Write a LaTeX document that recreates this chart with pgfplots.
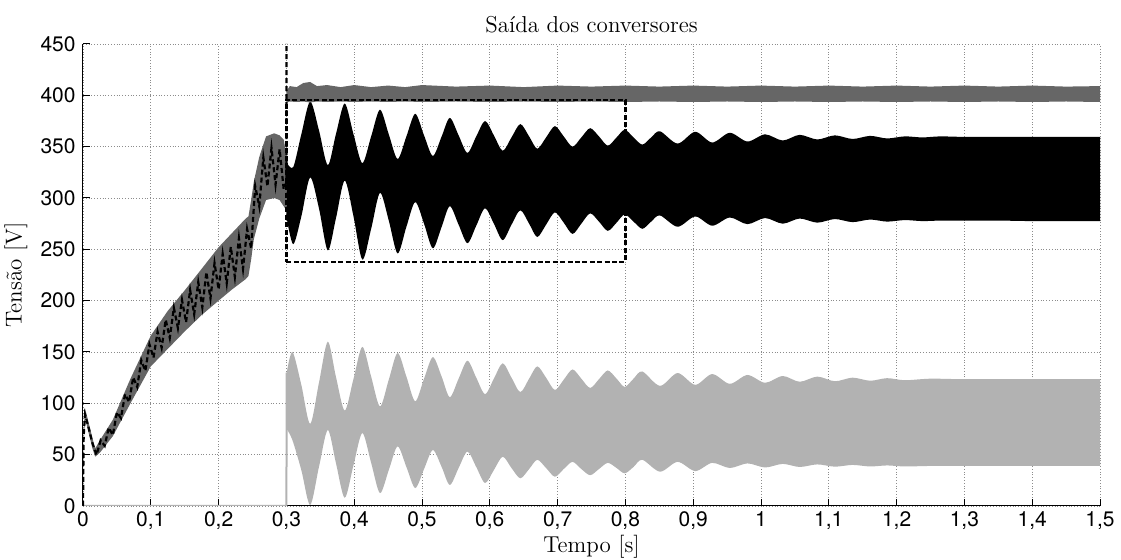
\documentclass[border=0pt]{standalone}
\usepackage{fontspec}
\newfontfamily\heros{TeX Gyre Heros}
\usepackage{pgfplots}
\usepackage{pgfplotstable}
\pgfplotsset{compat=1.18}
\usepgfplotslibrary{fillbetween}

\definecolor{cdark}{gray}{0.40}
\definecolor{clight}{gray}{0.70}
\definecolor{cgrid}{gray}{0.55}

% ramp of both converters before 0.3 s (band limits)
\pgfplotstableread{
t lo hi
0.000 0 0
0.001 60 75
0.003 86 95
0.008 72 82
0.014 56 66
0.018 48 56
0.025 52 64
0.044 68 84
0.070 100 124
0.100 136 166
0.125 153 190
0.150 170 210
0.175 186 231
0.200 200 252
0.220 211 266
0.240 221 280
0.244 224 282
0.248 240 298
0.252 260 316
0.260 280 340
0.270 298 360
0.282 300 363
0.290 298 361
0.296 292 357
0.300 288 342
}\ramp

% second converter (dashed) during the ramp
\pgfplotstableread{
t v
0.000 0
0.001 68
0.003 89
0.008 77
0.014 61
0.020 49.7
0.026 63.9
0.032 58.6
0.038 76.3
0.044 69
0.050 91.3
0.056 85.6
0.062 108.9
0.068 101.2
0.074 125.2
0.080 116
0.086 141.8
0.092 131.6
0.098 157.4
0.104 144.5
0.110 169.8
0.116 154.1
0.122 181.4
0.128 163.7
0.134 193
0.140 173.3
0.146 200.7
0.152 179
0.158 210.3
0.164 186.7
0.170 218
0.176 193.4
0.182 227.8
0.188 202.2
0.194 236.6
0.200 211
0.206 245.5
0.212 216.9
0.218 252.4
0.224 223.1
0.230 261
0.236 230.9
0.242 269.8
0.248 251
0.254 311.5
0.260 292
0.266 339.4
0.272 311.4
0.278 348.7
0.284 313
0.290 347.5
0.296 308.5
0.300 315
0.300 480
}\rampdash

% black converter output after 0.3 s (band limits)
\pgfplotstableread{
t lo hi
0.300 282 335
0.310 255 330
0.322 282 362
0.335 320 394
0.348 290 366
0.361 249 332
0.373 280 362
0.386 317 392
0.399 282 362
0.412 240 334
0.425 270 360
0.438 305 386
0.451 278 362
0.464 246 338
0.477 272 360
0.490 296 382
0.503 275 361
0.516 251 341
0.529 272 360
0.541 292 378
0.554 274 361
0.567 256 344
0.580 273 360
0.593 290 375
0.606 275 361
0.619 259 346
0.632 274 359
0.645 288 372
0.658 275 360
0.670 262 348
0.683 274 359
0.696 286 370
0.709 276 360
0.722 265 350
0.735 275 359
0.748 285 368
0.761 277 360
0.774 268 351
0.787 276 359
0.799 284 366.5
0.812 277 359
0.825 270 352
0.838 277 359
0.851 283 365
0.877 272 353
0.903 282 364.5
0.928 273 354
0.954 281 363.5
0.980 274.5 355
1.006 280.5 362
1.032 275 356
1.057 280 361.5
1.083 276 357
1.109 279.5 361
1.135 276.5 357.5
1.161 279 360.5
1.186 277 358
1.212 278.5 360
1.238 277.5 359
1.264 278 360
1.300 278 359.5
1.350 278 359.5
1.400 277.5 359.5
1.450 277.5 359.5
1.500 277.5 359.5
}\blk

% DC bus (dark grey) after 0.3 s
\pgfplotstableread{
t lo hi
0.300 393 404
0.305 394 409
0.315 393.5 408
0.325 394 412
0.335 393 413
0.345 394 409
0.360 393.5 410
0.380 394 408
0.400 393.5 410
0.425 394 408
0.450 393.5 409.5
0.475 394 408
0.500 393.5 410
0.550 394 408.5
0.600 393.5 409.5
0.650 394 408
0.700 393.5 409.5
0.750 394 408.5
0.800 393.5 409.5
0.850 394 408.5
0.900 393.5 409.5
0.950 394 408.5
1.000 393.5 409.5
1.050 394 408.5
1.100 393.5 409.5
1.150 394 408.5
1.200 393.5 409.5
1.250 394 408.5
1.300 393.5 409.5
1.350 394 408.5
1.400 393.5 409.5
1.450 394 408.5
1.500 393.5 409
}\bus

% light grey converter output after 0.3 s
\pgfplotstableread{
t lo hi
0.3005 75 130
0.309 64 150
0.322 35 118
0.335 1 80
0.348 38 120
0.361 74 160
0.373 42 126
0.386 8 93
0.399 40 124
0.412 71 155
0.425 42 126
0.438 12.6 97
0.451 35 123
0.464 58 149
0.477 38 126
0.490 17.5 102
0.503 36 124
0.516 54.5 145
0.529 38 126
0.541 20.5 106
0.554 37 124
0.567 53 141.5
0.580 38 125
0.593 22.4 109
0.606 35 124
0.619 48 139
0.632 37 125
0.645 27 111
0.658 36 124
0.670 45 136
0.683 37 125
0.696 28.5 113
0.709 36 123
0.722 43 133
0.735 36 124
0.748 30 115
0.761 36 123.5
0.774 42 132
0.787 37 124
0.799 31.8 116
0.812 38 124
0.825 45 131
0.851 33.4 117
0.877 43 129.5
0.903 34 118
0.928 42 128.5
0.954 37 119
0.980 41.5 127.6
1.006 37.5 120
1.032 41 126.6
1.057 38 121
1.083 40.5 126
1.109 38.3 121.5
1.135 40 125
1.161 38.5 122
1.186 39.5 124.5
1.212 38.5 122.5
1.250 39 124
1.300 39 123.5
1.400 39 123.5
1.500 39 123.5
}\lgt

\begin{document}
\begin{tikzpicture}
\begin{axis}[
  at={(0,0)}, anchor=south west,
  scale only axis, width=508.5pt, height=231pt,
  xmin=0, xmax=1.5, ymin=0, ymax=450,
  xtick={0,0.1,0.2,0.3,0.4,0.5,0.6,0.7,0.8,0.9,1,1.1,1.2,1.3,1.4,1.5},
  ytick={0,50,100,150,200,250,300,350,400,450},
  axis x line*=bottom, axis y line*=left,
  axis line style={black, line width=0.5pt},
  tick align=inside, major tick length=3.5pt,
  tick style={black, line width=0.5pt},
  grid=major, grid style={cgrid, densely dotted, line width=0.45pt},
  /pgf/number format/assume math mode=true,
  /pgf/number format/use comma,
  xticklabel style={font=\heros\fontsize{10.5}{12}\selectfont, anchor=base, yshift=-10.5pt, inner sep=0pt,
    /pgf/number format/.cd, fixed, precision=1, use comma},
  yticklabel style={font=\heros\fontsize{10.5}{12}\selectfont, anchor=east, inner sep=0pt, xshift=-3.5pt},
  title={Saída dos conversores},
  title style={at={(axis description cs:0.5,1)}, anchor=base, yshift=-0.5pt, font=\fontsize{11.5}{13}\selectfont, inner sep=0pt},
  xlabel={Tempo [s]},
  xlabel style={at={(axis description cs:0.5,0)}, anchor=base, yshift=-23.5pt, font=\fontsize{11.5}{13}\selectfont, inner sep=0pt},
  ylabel={Tensão [V]},
  ylabel style={at={(axis description cs:-0.0659,0.5)}, anchor=center, font=\fontsize{11.5}{13}\selectfont, inner sep=0pt},
]
% light grey converter
\addplot[name path=lgU, draw=none, smooth] table[x=t, y=hi] {\lgt};
\addplot[name path=lgL, draw=none, smooth] table[x=t, y=lo] {\lgt};
\addplot[fill=clight, draw=none] fill between[of=lgU and lgL];
\addplot[clight, line width=1pt] coordinates {(0,0) (0.3,0) (0.3005,130)};

% black converter
\addplot[name path=bkU, draw=none, smooth] table[x=t, y=hi] {\blk};
\addplot[name path=bkL, draw=none, smooth] table[x=t, y=lo] {\blk};
\addplot[fill=black, draw=none] fill between[of=bkU and bkL];

% DC bus
\addplot[name path=buU, draw=none] table[x=t, y=hi] {\bus};
\addplot[name path=buL, draw=none] table[x=t, y=lo] {\bus};
\addplot[fill=cdark, draw=none] fill between[of=buU and buL];

% common ramp
\addplot[name path=raU, draw=none] table[x=t, y=hi] {\ramp};
\addplot[name path=raL, draw=none] table[x=t, y=lo] {\ramp};
\addplot[fill=cdark, draw=none] fill between[of=raU and raL];
\addplot[black, line width=1.1pt, dash pattern=on 2.5pt off 1.5pt] table[x=t, y=v] {\rampdash};

% zoom window
\addplot[black, line width=1.1pt, dash pattern=on 2.5pt off 1.2pt]
  coordinates {(0.3,238) (0.8,238) (0.8,395.5) (0.3,395.5) (0.3,238)};
\end{axis}
\pgfresetboundingbox
\path[use as bounding box] (-41.5pt,-27pt) rectangle (519pt,253pt);
\end{tikzpicture}
\end{document}
